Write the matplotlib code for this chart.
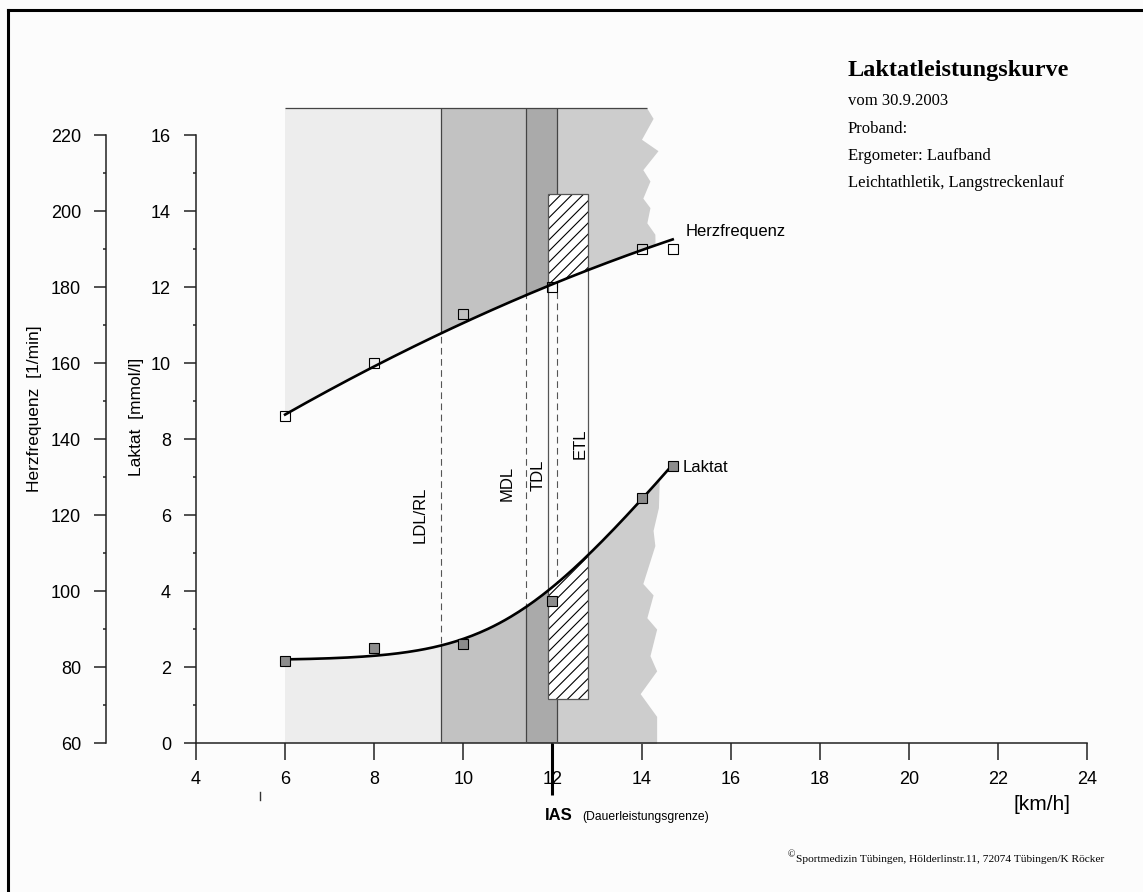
import numpy as np
import matplotlib
matplotlib.use("Agg")
import matplotlib.pyplot as plt
from matplotlib.patches import Polygon, Rectangle
from matplotlib.lines import Line2D

plt.rcParams['font.family'] = ['Liberation Sans', 'DejaVu Sans']
plt.rcParams['hatch.linewidth'] = 0.8

# measured stages (treadmill)
speed = [6, 8, 10, 12, 14, 14.7]
lactate = [2.15, 2.5, 2.6, 3.75, 6.45, 7.3]
heart_rate = [146, 160, 173, 180, 190, 190]

# fitted curves
lac_curve_speed = [6, 7, 8, 9, 9.5, 10, 11.4, 11.9, 12.8, 13.5, 14, 14.7]
lac_curve = [2.15, 2.23, 2.33, 2.47, 2.57, 2.76, 3.57, 3.94, 4.99, 5.8, 6.44, 7.3]
hr_curve_speed = [6, 8, 9.5, 11.4, 12, 14.7]
hr_curve = [146, 160, 168.2, 177.7, 180, 193]

# training zones (km/h)
zone_names = ['LDL/RL', 'MDL', 'TDL', 'ETL']
zone_bounds = [6.0, 9.5, 11.4, 12.1]
ias_speed = 12
tdl_box_speed = [11.9, 12.8]
tdl_box_lactate = [1.15, 14.45]

x_ticks = list(range(4, 25, 2))
lac_ticks = list(range(0, 17, 2))
hr_ticks = list(range(60, 221, 20))

SHADE_TOP = 16.72
zone_colors = ['#ededed', '#c2c2c2', '#aaaaaa', '#cdcdcd']
# ragged right edge of the last zone
edge_lac = [0, 0.7, 1.3, 1.9, 2.3, 3.0, 3.3, 3.9, 4.2, 5.2, 5.6, 6.2, 7.0,
            13.4, 13.7, 14.1, 14.35, 14.8, 15.1, 15.6, 15.9, 16.45, SHADE_TOP]
edge_kmh = [14.34, 14.34, 13.97, 14.34, 14.19, 14.34, 14.12, 14.26, 14.03, 14.30,
            14.26, 14.38, 14.4, 14.3, 14.12, 14.19, 14.03, 14.19, 14.03, 14.37,
            14.0, 14.26, 14.12]


def knee_fit(x, y):
    # least squares for y = a + b * softplus(c (x - x0)) / c, grid over c and x0
    x = np.asarray(x, float)
    y = np.asarray(y, float)
    best = None
    for c in np.linspace(0.4, 2.5, 43):
        for x0 in np.linspace(8, 13, 101):
            basis = np.log1p(np.exp(c * (x - x0))) / c
            A = np.column_stack([np.ones_like(x), basis])
            coef = np.linalg.lstsq(A, y, rcond=None)[0]
            err = np.sum((A @ coef - y) ** 2)
            if best is None or err < best[0]:
                best = (err, c, x0, coef)
    _, c, x0, coef = best
    return lambda t: coef[0] + coef[1] * np.log1p(np.exp(c * (np.asarray(t) - x0))) / c


fig = plt.figure(figsize=(11.43, 8.92), dpi=100, facecolor='#fcfcfc')
ax = fig.add_axes([196 / 1143, 149 / 892, 891 / 1143, 636 / 892])
ax.set_facecolor('none')
ax.set_xlim(4, 24)
ax.set_ylim(0, 16.75)
ax2 = ax.twinx()
ax2.set_ylim(60, 227.5)

lac_fit = knee_fit(lac_curve_speed, lac_curve)
hr_fit = np.poly1d(np.polyfit(hr_curve_speed, hr_curve, 2))

# clip shapes: below the lactate curve and above the heart rate curve
xx = np.linspace(5, 16, 300)
below_lac = Polygon(np.column_stack([np.r_[xx, 16, 5], np.r_[lac_fit(xx), -2, -2]]),
                    transform=ax.transData)
above_hr = Polygon(np.column_stack([np.r_[xx, 16, 5], np.r_[hr_fit(xx), 300, 300]]),
                   transform=ax2.transData)
clips = [below_lac, above_hr]

# dashed zone limits between the curves
for x in zone_bounds[1:]:
    ax.vlines(x, 0, SHADE_TOP, colors='#555555', linestyles=(0, (6, 4)), lw=0.8, zorder=1)

# shaded zones
for i, col in enumerate(zone_colors):
    for cp in clips:
        if i < len(zone_colors) - 1:
            poly = ax.fill_between([zone_bounds[i], zone_bounds[i + 1]], 0, SHADE_TOP,
                                   color=col, lw=0, zorder=2)
        else:
            poly = ax.fill_betweenx(edge_lac, zone_bounds[i], edge_kmh,
                                    color=col, lw=0, zorder=2)
        poly.set_clip_path(cp)

for cp in clips:
    ln = ax.vlines(zone_bounds[1:], 0, SHADE_TOP, colors='#444444', lw=0.9, zorder=3)
    ln.set_clip_path(cp)
ax.hlines(SHADE_TOP, zone_bounds[0], edge_kmh[-1], colors='#444444', lw=0.9, zorder=3)

# TDL box
bw = tdl_box_speed[1] - tdl_box_speed[0]
bh = tdl_box_lactate[1] - tdl_box_lactate[0]
for cp in clips:
    r = Rectangle((tdl_box_speed[0], tdl_box_lactate[0]), bw, bh, facecolor='white',
                  edgecolor='black', lw=0, hatch='///', zorder=4)
    ax.add_patch(r)
    r.set_clip_path(cp)
ax.add_patch(Rectangle((tdl_box_speed[0], tdl_box_lactate[0]), bw, bh, fill=False,
                       edgecolor='#555555', lw=0.9, zorder=5))

# curves and measured points
xs = np.linspace(lac_curve_speed[0], lac_curve_speed[-1], 200)
ax.plot(xs, lac_fit(xs), color='black', lw=1.9, zorder=6)
ax.plot(speed, lactate, 's', ms=7.5, mfc='#8c8c8c', mec='black', mew=0.8, zorder=7)
xs = np.linspace(hr_curve_speed[0], hr_curve_speed[-1], 200)
ax2.plot(xs, hr_fit(xs), color='black', lw=1.9, zorder=6)
ax2.plot(speed, heart_rate, 's', ms=7.5, mfc='none', mec='black', mew=0.8, zorder=7)

ax.text(14.98, 13.48, 'Herzfrequenz', fontsize=12, ha='left', va='center')
ax.text(14.93, 7.25, 'Laktat', fontsize=12, ha='left', va='center')

label_pos = [(9.03, 6.0), (10.98, 6.83), (11.68, 7.05), (12.62, 7.88)]
for name, (lx, ly) in zip(zone_names, label_pos):
    ax.text(lx, ly, name, rotation=90, fontsize=12, ha='center', va='center')

# IAS marker below the speed axis
ax.plot([ias_speed, ias_speed], [0, -1.37], color='black', lw=2.2, clip_on=False,
        solid_capstyle='butt')
ax.plot([5.44, 5.44], [-1.29, -1.5], color='#333333', lw=1, clip_on=False)

# axes styling
for s in ['top', 'right']:
    ax.spines[s].set_visible(False)
ax.spines['left'].set_bounds(0, 16)
ax.spines['bottom'].set_bounds(4, 24)
for s in ['top', 'right', 'bottom']:
    ax2.spines[s].set_visible(False)
ax2.spines['left'].set_visible(True)
ax2.spines['left'].set_position(('axes', -90 / 891))
ax2.spines['left'].set_bounds(60, 220)
ax2.yaxis.set_ticks_position('left')
for sp in list(ax.spines.values()) + [ax2.spines['left']]:
    sp.set_linewidth(1.1)
    sp.set_color('#222222')

ax.set_xticks(x_ticks)
ax.set_yticks(lac_ticks)
ax.set_yticks(range(1, 16, 2), minor=True)
ax2.set_yticks(hr_ticks)
ax2.set_yticks(range(70, 211, 20), minor=True)
ax.tick_params(axis='x', length=12, width=1.1, pad=8, labelsize=13, color='#222222')
for a in [ax, ax2]:
    a.tick_params(axis='y', which='major', length=9, width=1.1, pad=9, labelsize=13,
                  color='#222222')
    a.tick_params(axis='y', which='minor', length=2.5, width=1.1, color='#222222')

ax.text(-60 / 891, 0.512, 'Laktat  [mmol/l]', transform=ax.transAxes, rotation=90,
        fontsize=12.5, ha='center', va='center')
ax.text(-161 / 891, 0.525, 'Herzfrequenz  [1/min]', transform=ax.transAxes, rotation=90,
        fontsize=12.5, ha='center', va='center')

fig.text(1042 / 1143, 1 - 805 / 892, '[km/h]', fontsize=15, ha='center', va='center')
fig.text(545 / 1143, 1 - 820 / 892, 'IAS', fontsize=12, weight='bold', va='baseline')
fig.text(582 / 1143, 1 - 820 / 892, '(Dauerleistungsgrenze)', fontsize=8.7, va='baseline')

# header block
serif = ['Liberation Serif', 'DejaVu Serif']
fig.text(848 / 1143, 1 - 76 / 892, 'Laktatleistungskurve', family=serif, fontsize=17.5,
         weight='bold', va='baseline')
header = ['vom 30.9.2003', 'Proband:', 'Ergometer: Laufband',
          'Leichtathletik, Langstreckenlauf']
for txt, yb in zip(header, [105, 133, 160, 187]):
    fig.text(848 / 1143, 1 - yb / 892, txt, family=serif, fontsize=12, va='baseline')

fig.text(788 / 1143, 1 - 857 / 892, '\u00a9', family=serif, fontsize=7, va='baseline')
fig.text(796 / 1143, 1 - 862 / 892,
         'Sportmedizin Tübingen, Hölderlinstr.11, 72074 Tübingen/K Röcker',
         family=serif, fontsize=8.2, va='baseline')

# page frame (top and left edge visible on the scan)
fig.add_artist(Line2D([8 / 1143, 8 / 1143], [0, 1 - 10 / 892], transform=fig.transFigure,
                      color='black', lw=2.2))
fig.add_artist(Line2D([8 / 1143, 1], [1 - 10 / 892, 1 - 10 / 892], transform=fig.transFigure,
                      color='black', lw=2.2))

fig.savefig('out.png', dpi=100, facecolor=fig.get_facecolor())
